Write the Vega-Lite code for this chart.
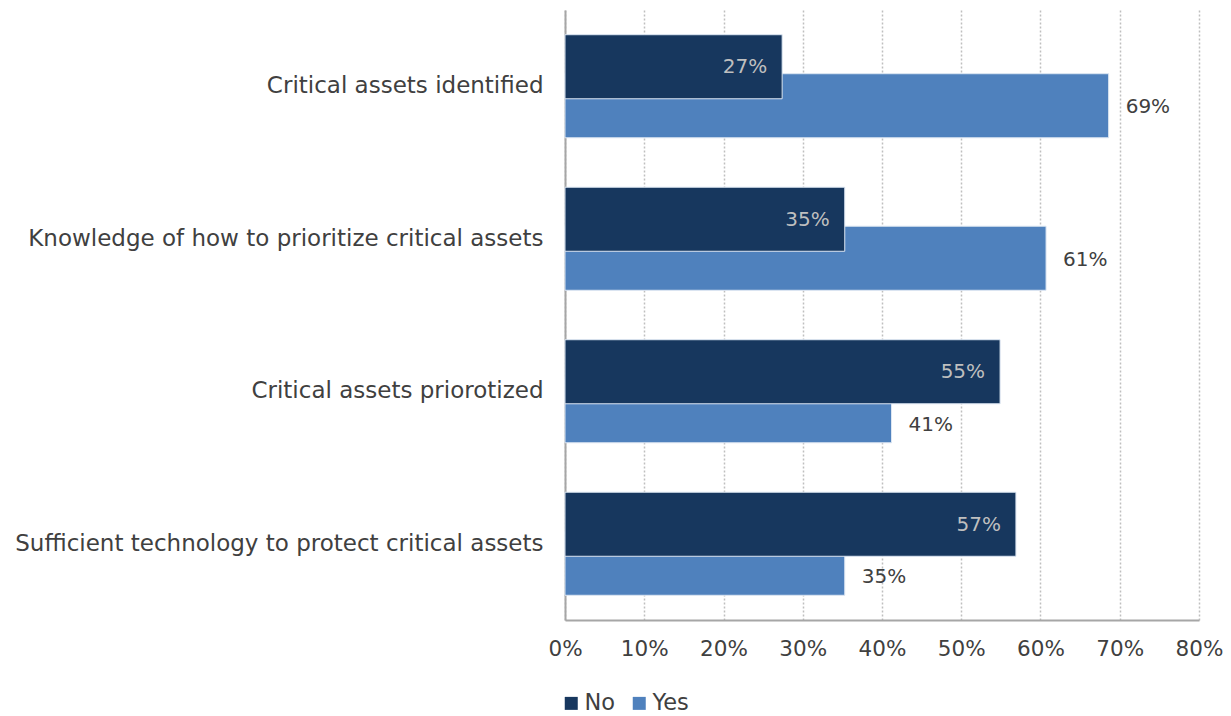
{
  "$schema": "https://vega.github.io/schema/vega-lite/v6.json",
  "autosize": {"type": "none"},
  "padding": {"left": 565, "top": 10, "right": 32, "bottom": 96},
  "width": 634,
  "height": 610,
  "background": "white",
  "config": {
    "font": "DejaVu Sans",
    "view": {"stroke": null}
  },
  "data": {
    "values": [
      {"item": "Critical assets identified", "answer": "No", "value": 0.274},
      {"item": "Critical assets identified", "answer": "Yes", "value": 0.686},
      {"item": "Knowledge of how to prioritize critical assets", "answer": "No", "value": 0.353},
      {"item": "Knowledge of how to prioritize critical assets", "answer": "Yes", "value": 0.607},
      {"item": "Critical assets priorotized", "answer": "No", "value": 0.549},
      {"item": "Critical assets priorotized", "answer": "Yes", "value": 0.412},
      {"item": "Sufficient technology to protect critical assets", "answer": "No", "value": 0.569},
      {"item": "Sufficient technology to protect critical assets", "answer": "Yes", "value": 0.353}
    ]
  },
  "transform": [
    {"joinaggregate": [{"op": "max", "field": "value", "as": "maxValue"}], "groupby": ["item"]}
  ],
  "encoding": {
    "y": {
      "field": "item",
      "type": "nominal",
      "sort": null,
      "scale": {"paddingInner": 0, "paddingOuter": 0},
      "axis": {
        "title": null,
        "ticks": false,
        "labelFontSize": 23,
        "labelColor": "#404040",
        "labelPadding": 22,
        "labelLimit": 600,
        "domainColor": "#a6a6a6",
        "domainWidth": 2,
        "grid": false
      }
    },
    "x": {
      "field": "value",
      "type": "quantitative",
      "scale": {"domain": [0, 0.8], "nice": false},
      "axis": {
        "title": null,
        "format": ".0%",
        "values": [0, 0.1, 0.2, 0.3, 0.4, 0.5, 0.6, 0.7, 0.8],
        "ticks": false,
        "labelFlush": false,
        "labelFontSize": 21.5,
        "labelColor": "#404040",
        "labelPadding": 18,
        "domainColor": "#a6a6a6",
        "domainWidth": 2,
        "grid": true,
        "gridColor": "#bfbfbf",
        "gridDash": [2, 2],
        "gridWidth": 1.5
      }
    }
  },
  "layer": [
    {
      "transform": [{"filter": "datum.answer == 'Yes'"}],
      "mark": {"type": "bar", "height": {"band": 0.42}, "yOffset": 19.5, "stroke": "#dce6f2", "strokeWidth": 1},
      "encoding": {
        "color": {
          "field": "answer",
          "type": "nominal",
          "scale": {"domain": ["No", "Yes"], "range": ["#17375e", "#4f81bd"]},
          "legend": {
            "title": null,
            "orient": "none",
            "direction": "horizontal",
            "legendX": -5,
            "legendY": 682,
            "symbolType": "square",
            "symbolSize": 169,
            "symbolStrokeWidth": 0,
            "labelFontSize": 22.5,
            "labelColor": "#404040",
            "labelOffset": 2,
            "columnPadding": 12
          }
        }
      }
    },
    {
      "transform": [{"filter": "datum.answer == 'No'"}],
      "mark": {"type": "bar", "height": {"band": 0.42}, "yOffset": -19.5, "stroke": "#dce6f2", "strokeWidth": 1},
      "encoding": {
        "color": {"field": "answer", "type": "nominal"}
      }
    },
    {
      "transform": [{"filter": "datum.answer == 'Yes' && datum.value >= datum.maxValue"}],
      "mark": {"type": "text", "align": "left", "baseline": "middle", "dx": 17, "yOffset": 21, "fontSize": 20, "color": "#404040"},
      "encoding": {"text": {"field": "value", "format": ".0%"}}
    },
    {
      "transform": [{"filter": "datum.answer == 'Yes' && datum.value < datum.maxValue"}],
      "mark": {"type": "text", "align": "left", "baseline": "middle", "dx": 17, "yOffset": 33.5, "fontSize": 20, "color": "#404040"},
      "encoding": {"text": {"field": "value", "format": ".0%"}}
    },
    {
      "transform": [{"filter": "datum.answer == 'No'"}],
      "mark": {"type": "text", "align": "right", "baseline": "middle", "dx": -15, "yOffset": -19, "fontSize": 20, "color": "#bfbfbf"},
      "encoding": {"text": {"field": "value", "format": ".0%"}}
    }
  ]
}
